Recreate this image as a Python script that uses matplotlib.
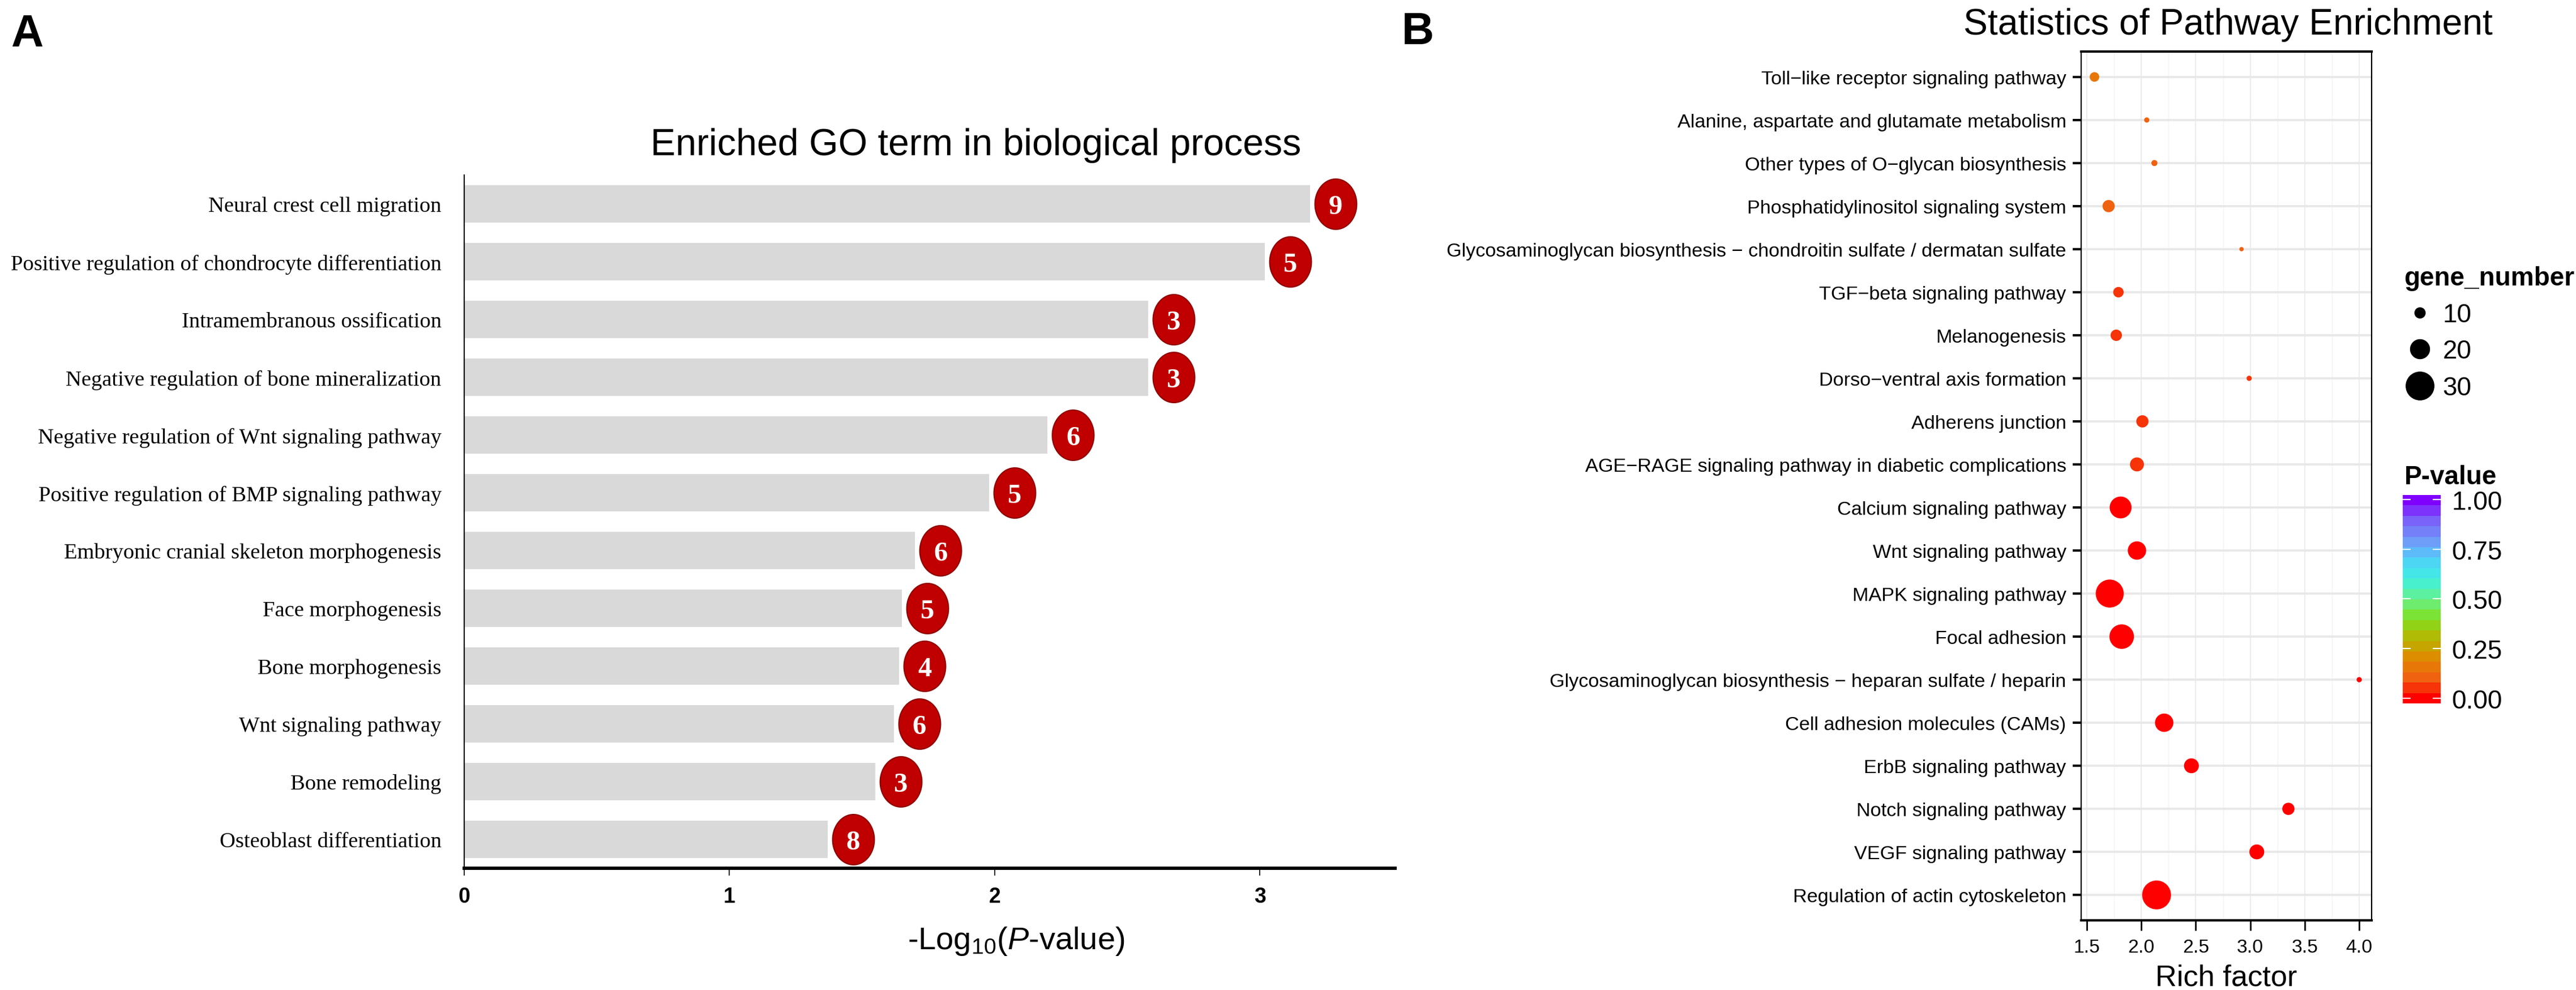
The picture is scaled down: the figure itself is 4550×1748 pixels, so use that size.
import numpy as np
import matplotlib
matplotlib.use("Agg")
from matplotlib import pyplot as plt
from matplotlib import font_manager
from matplotlib.colors import LinearSegmentedColormap, Normalize
from matplotlib.lines import Line2D
from matplotlib.path import Path

# ---------------------------------------------------------------------------
# Panel A: enriched GO terms (biological process)
# ---------------------------------------------------------------------------
go_terms = [
    "Neural crest cell migration",
    "Positive regulation of chondrocyte differentiation",
    "Intramembranous ossification",
    "Negative regulation of bone mineralization",
    "Negative regulation of Wnt signaling pathway",
    "Positive regulation of BMP signaling pathway",
    "Embryonic cranial skeleton morphogenesis",
    "Face morphogenesis",
    "Bone morphogenesis",
    "Wnt signaling pathway",
    "Bone remodeling",
    "Osteoblast differentiation",
]
go_logp = [3.19, 3.02, 2.58, 2.58, 2.20, 1.98, 1.70, 1.65, 1.64, 1.62, 1.55, 1.37]
go_counts = [9, 5, 3, 3, 6, 5, 6, 5, 4, 6, 3, 8]
go_xticks = [0, 1, 2, 3]

# ---------------------------------------------------------------------------
# Panel B: KEGG pathway enrichment
# ---------------------------------------------------------------------------
pathways = [
    "Toll\u2212like receptor signaling pathway",
    "Alanine, aspartate and glutamate metabolism",
    "Other types of O\u2212glycan biosynthesis",
    "Phosphatidylinositol signaling system",
    "Glycosaminoglycan biosynthesis \u2212 chondroitin sulfate / dermatan sulfate",
    "TGF\u2212beta signaling pathway",
    "Melanogenesis",
    "Dorso\u2212ventral axis formation",
    "Adherens junction",
    "AGE\u2212RAGE signaling pathway in diabetic complications",
    "Calcium signaling pathway",
    "Wnt signaling pathway",
    "MAPK signaling pathway",
    "Focal adhesion",
    "Glycosaminoglycan biosynthesis \u2212 heparan sulfate / heparin",
    "Cell adhesion molecules (CAMs)",
    "ErbB signaling pathway",
    "Notch signaling pathway",
    "VEGF signaling pathway",
    "Regulation of actin cytoskeleton",
]
rich_factor = [1.57, 2.05, 2.12, 1.70, 2.92, 1.79, 1.77, 2.99, 2.01, 1.96,
               1.81, 1.96, 1.71, 1.82, 4.00, 2.21, 2.46, 3.35, 3.06, 2.14]
gene_number = [9, 4, 5, 12, 3, 10, 11, 4, 12, 14,
               23, 19, 30, 26, 4, 19, 15, 12, 15, 31]
p_value = [0.14, 0.12, 0.12, 0.08, 0.09, 0.07, 0.07, 0.06, 0.05, 0.04,
           0.02, 0.025, 0.015, 0.015, 0.02, 0.01, 0.01, 0.01, 0.005, 0.005]
rich_ticks = [1.5, 2.0, 2.5, 3.0, 3.5, 4.0]
size_legend = [10, 20, 30]
pvalue_ticks = [0.0, 0.25, 0.5, 0.75, 1.0]

# fonts (narrow faces are used when present)
installed = {f.name for f in font_manager.fontManager.ttflist}
NARROW = "Liberation Sans Narrow" if "Liberation Sans Narrow" in installed else "Liberation Sans"
SANS = "Liberation Sans"
SERIF = "Liberation Serif"
plt.rcParams["font.family"] = [SANS, "DejaVu Sans"]
plt.rcParams["mathtext.fontset"] = "custom"
plt.rcParams["mathtext.rm"] = SANS
plt.rcParams["mathtext.it"] = SANS + ":italic"

W, H = 4550, 1749
fig = plt.figure(figsize=(W / 100, H / 100), dpi=100)
renderer = fig.canvas.get_renderer()


def box(l, t, r, b):
    # pixel box -> figure fraction
    return [l / W, 1 - b / H, (r - l) / W, (b - t) / H]


def dot_pts(n):
    # gene number -> marker diameter in points
    return (1.55 * n + 3) * 0.72


def fit(texts, width_px):
    # scale font size so the widest text is width_px wide
    w = max(t.get_window_extent(renderer).width for t in texts)
    for t in texts:
        t.set_fontsize(t.get_fontsize() * width_px / w)


# ---------------- panel A ----------------
axA = fig.add_axes(box(820, 310, 2464, 1534))
ya = np.arange(len(go_terms))
axA.barh(ya, go_logp, height=0.65, color="#d9d9d9", zorder=1)

t = np.linspace(0, 2 * np.pi, 60)
ellipse = Path(np.column_stack([0.415 * np.cos(t), 0.5 * np.sin(t)]), closed=True)
badge_x = np.array(go_logp) + 0.096
axA.scatter(badge_x, ya, s=64 ** 2, marker=ellipse, color="#c00000",
            edgecolor="#8e0000", linewidth=1.5, zorder=3, clip_on=False)
for xv, yv, n in zip(badge_x, ya, go_counts):
    axA.text(xv, yv, str(n), ha="center", va="center_baseline", color="white",
             fontsize=35, fontweight="bold", fontfamily=SERIF, zorder=4)

axA.set_xlim(0, 3.51)
axA.set_ylim(11.5, -0.5)
axA.set_yticks(ya)
axA.set_yticklabels(go_terms, fontfamily=SERIF, fontsize=26)
axA.tick_params(axis="y", length=0, pad=29)
fit(axA.get_yticklabels(), 761)
axA.set_xticks(go_xticks)
axA.set_xticklabels([str(v) for v in go_xticks], fontfamily=NARROW,
                    fontweight="bold", fontsize=27)
axA.tick_params(axis="x", length=9, width=1.2, pad=14)
for s in ("top", "right"):
    axA.spines[s].set_visible(False)
axA.spines["left"].set_linewidth(1.5)
axA.spines["bottom"].set_linewidth(4.3)

titleA = fig.text(1724 / W, 1 - 274 / H, "Enriched GO term in biological process",
                  ha="center", va="baseline", fontsize=48, fontfamily=SANS)
fit([titleA], 1148)
xlabA = fig.text(1795 / W, 1 - 1676 / H, r"-Log$_{10}$($\it{P}$-value)",
                 ha="center", va="baseline", fontsize=40, fontfamily=SANS)
fit([xlabA], 383)
fig.text(19 / W, 1 - 82 / H, "A", ha="left", va="baseline",
         fontsize=57, fontweight="bold", fontfamily=SANS)

# ---------------- panel B ----------------
cmap = LinearSegmentedColormap.from_list(
    "pv", ["#ff0000", "#f06010", "#e08a00", "#b8b400", "#80e020", "#66f08a",
           "#40f0e0", "#50d0f8", "#7098f8", "#7a60f8", "#8000ff"], N=20)
norm = Normalize(vmin=-0.026, vmax=1.023)

axB = fig.add_axes(box(3676, 92, 4189, 1626))
yb = np.arange(len(pathways))
sc = axB.scatter(rich_factor, yb, s=[dot_pts(n) ** 2 for n in gene_number],
                 c=p_value, cmap=cmap, norm=norm, linewidths=0, zorder=3)
axB.set_xlim(1.448, 4.114)
axB.set_ylim(19.59, -0.59)
axB.set_yticks(yb)
axB.set_yticklabels(pathways, fontfamily=[NARROW, "DejaVu Sans"], fontsize=27)
fit(axB.get_yticklabels(), 1096)
axB.set_xticks(rich_ticks)
axB.set_xticklabels(["%.1f" % v for v in rich_ticks], fontfamily=NARROW, fontsize=26)
fit(axB.get_xticklabels(), 47)
axB.set_xticks(np.arange(1.75, 4.1, 0.5), minor=True)
axB.tick_params(axis="y", length=11, width=3, pad=8)
axB.tick_params(axis="x", which="major", length=13, width=2, pad=10)
axB.tick_params(axis="x", which="minor", length=0)
axB.set_axisbelow(True)
axB.grid(axis="y", which="major", color="#e8e8e8", linewidth=2.8)
axB.grid(axis="x", which="major", color="#ebebeb", linewidth=1.3)
axB.grid(axis="x", which="minor", color="#f3f3f3", linewidth=1.0)
for s in ("left", "right"):
    axB.spines[s].set_linewidth(1.6)
for s in ("top", "bottom"):
    axB.spines[s].set_linewidth(3)

titleB = fig.text(3935 / W, 1 - 61 / H, "Statistics of Pathway Enrichment",
                  ha="center", va="baseline", fontsize=52, fontfamily=NARROW)
fit([titleB], 935)
xlabB = fig.text(3932 / W, 1 - 1741 / H, "Rich factor",
                 ha="center", va="baseline", fontsize=44, fontfamily=NARROW)
fit([xlabB], 251)
fig.text(2476 / W, 1 - 78 / H, "B", ha="left", va="baseline",
         fontsize=57, fontweight="bold", fontfamily=SANS)

# size legend
handles = [Line2D([], [], marker="o", linestyle="", color="black",
                  markersize=dot_pts(n)) for n in size_legend]
axB.legend(handles, [str(n) for n in size_legend], title="gene_number",
           loc="upper left", bbox_to_anchor=(4246 / W, 1 - 470 / H),
           bbox_transform=fig.transFigure, frameon=False, fontsize=33,
           title_fontproperties={"weight": "bold", "size": 33},
           alignment="left", handlelength=1.2, handletextpad=0.3,
           labelspacing=0.45, borderpad=0, borderaxespad=0)

# colour bar
cax = fig.add_axes(box(4244, 875, 4311, 1243))
cb = fig.colorbar(sc, cax=cax, ticks=pvalue_ticks)
cb.outline.set_visible(False)
cb.minorticks_off()
cb.ax.set_yticklabels(["%.2f" % v for v in pvalue_ticks])
cax.tick_params(direction="in", color="white", length=10, width=1.5,
                left=True, right=True, labelsize=33, pad=14)
fig.text(4247 / W, 1 - 855 / H, "P-value", ha="left", va="baseline",
         fontsize=33, fontweight="bold", fontfamily=SANS)

fig.savefig("out.png", dpi=100)
